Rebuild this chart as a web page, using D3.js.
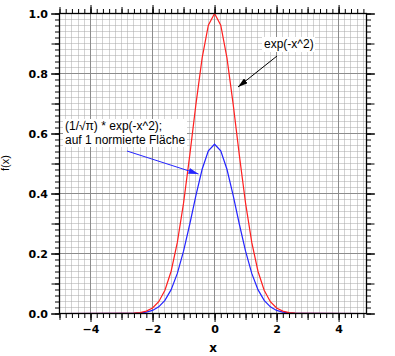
<!DOCTYPE html>
<html><head><meta charset="utf-8">
<script src="https://cdn.jsdelivr.net/npm/d3@7"></script>
<style>body{margin:0;background:#fff}svg{display:block}</style>
</head><body>
<svg id="c" width="395" height="356"></svg>
<script>
const xValues = [-5.0, -3.0,-2.8,-2.6,-2.4,-2.2,-2.0,-1.8,-1.6,-1.4,-1.2,-1.0,-0.8,-0.6,-0.4,-0.2,
                 0.0, 0.2,0.4,0.6,0.8,1.0,1.2,1.4,1.6,1.8,2.0,2.2,2.4,2.6,2.8,3.0, 4.9];
const redValues = [0, 0.0001,0.0004,0.0012,0.0032,0.0079,0.0183,0.0392,0.0773,0.1409,0.2369,0.3679,0.5273,0.6977,0.8521,0.9608,
                   1.0, 0.9608,0.8521,0.6977,0.5273,0.3679,0.2369,0.1409,0.0773,0.0392,0.0183,0.0079,0.0032,0.0012,0.0004,0.0001, 0];
const blueValues = [0, 0.0001,0.0002,0.0007,0.0018,0.0045,0.0103,0.0221,0.0436,0.0795,0.1337,0.2076,0.2975,0.3936,0.4808,0.5421,
                    0.5642, 0.5421,0.4808,0.3936,0.2975,0.2076,0.1337,0.0795,0.0436,0.0221,0.0103,0.0045,0.0018,0.0007,0.0002,0.0001, 0];
const xTickLabels = [-4, -2, 0, 2, 4];
const yTickLabels = [0.0, 0.2, 0.4, 0.6, 0.8, 1.0];
const redLabel = "exp(-x^2)";
const blueLabel = ["(1/\u221A\u03C0) * exp(-x^2);", "auf 1 normierte Fl\u00E4che"];

const svg = d3.select("#c");
const L = 59.5, R = 366.5, T = 13.5, B = 313.5;
const x = d3.scaleLinear().domain([-5, 4.9]).range([L, R]);
const y = d3.scaleLinear().domain([0, 1]).range([B, T]);
const crisp = v => Math.round(v - 0.5) + 0.5;

const xMinor = d3.range(-25, 25).map(i => i / 5);
const xMed = d3.range(-5, 5);
const yMinor = d3.range(0, 51).map(i => i / 50);
const yMed = d3.range(0, 11).map(i => i / 10);

// dotted minor grid
const g = svg.append("g");
g.selectAll("line.vx").data(xMinor.filter(v => v > -5 && Math.round(v * 5) % 10 !== 0))
  .join("line").attr("x1", d => crisp(x(d))).attr("x2", d => crisp(x(d))).attr("y1", T).attr("y2", B)
  .attr("stroke", "#a6a6a6").attr("stroke-dasharray", "1,1");
g.selectAll("line.hy").data(yMinor.filter(v => v > 0 && v < 1 && Math.round(v * 50) % 10 !== 0))
  .join("line").attr("x1", L).attr("x2", R).attr("y1", d => crisp(y(d))).attr("y2", d => crisp(y(d)))
  .attr("stroke", "#a6a6a6").attr("stroke-dasharray", "1,1");
// solid major grid
g.selectAll("line.mx").data(xTickLabels).join("line")
  .attr("x1", d => crisp(x(d))).attr("x2", d => crisp(x(d))).attr("y1", T).attr("y2", B).attr("stroke", "#8c8c8c");
g.selectAll("line.my").data(yTickLabels.filter(v => v > 0 && v < 1)).join("line")
  .attr("x1", L).attr("x2", R).attr("y1", d => crisp(y(d))).attr("y2", d => crisp(y(d))).attr("stroke", "#8c8c8c");

// curves
const line = d3.line().x(d => x(d[0])).y(d => y(d[1]));
svg.append("path").datum(xValues.map((v, i) => [v, blueValues[i]]))
  .attr("d", line).attr("fill", "none").attr("stroke", "#2424ff").attr("stroke-width", 1.2);
svg.append("path").datum(xValues.map((v, i) => [v, redValues[i]]))
  .attr("d", line).attr("fill", "none").attr("stroke", "#ff2020").attr("stroke-width", 1.2);

// axes
function ax(gen, tr, vals, size, labels) {
  const a = gen.tickValues(vals).tickSize(size).tickSizeOuter(0);
  if (labels) a.tickFormat(labels); else a.tickFormat("");
  const s = svg.append("g").attr("transform", tr).call(a);
  s.select(".domain").remove();
  s.selectAll(".tick line").attr("stroke", "#000");
  s.selectAll(".tick").attr("transform", function () {
    const t = this.getAttribute("transform");
    return t.replace(/translate\(([-\d.]+),([-\d.]+)\)/, (m, a1, b1) =>
      `translate(${gen.orient ? a1 : a1},${b1})`);
  });
  return s;
}
[[() => d3.axisBottom(x), `translate(0,${B})`, true], [() => d3.axisTop(x), `translate(0,${T})`, false]].forEach(([gen, tr, lab]) => {
  ax(gen(), tr, xMinor, 4.5);
  ax(gen(), tr, xMed, 6.5);
  ax(gen(), tr, xTickLabels, 8.5, lab ? d3.format("d") : null);
});
[[() => d3.axisLeft(y), `translate(${L},0)`, true], [() => d3.axisRight(y), `translate(${R},0)`, false]].forEach(([gen, tr, lab]) => {
  ax(gen(), tr, yMinor, 4.5);
  ax(gen(), tr, yMed, 8);
  ax(gen(), tr, yTickLabels, 8.5, lab ? d3.format(".1f") : null);
});
svg.selectAll(".tick text").attr("font-family", "'DejaVu Sans', sans-serif").attr("font-weight", "bold")
  .attr("font-size", 11).attr("fill", "#000");
// frame
svg.append("rect").attr("x", L).attr("y", T).attr("width", R - L).attr("height", B - T)
  .attr("fill", "none").attr("stroke", "#000").attr("stroke-width", 1.3);

// axis titles
svg.append("text").attr("x", 213).attr("y", 352).attr("text-anchor", "middle")
  .attr("font-family", "'DejaVu Sans', sans-serif").attr("font-weight", "bold").attr("font-size", 12).text("x");
svg.append("text").attr("transform", "translate(9,163) rotate(-90)").attr("text-anchor", "middle")
  .attr("font-family", "'Liberation Sans', Arial, sans-serif").attr("font-size", 11).text("f(x)");

// annotations
const defs = svg.append("defs");
function marker(id, col) {
  defs.append("marker").attr("id", id).attr("viewBox", "0 0 10 6").attr("refX", 10).attr("refY", 3)
    .attr("markerWidth", 10).attr("markerHeight", 6).attr("markerUnits", "userSpaceOnUse").attr("orient", "auto")
    .append("path").attr("d", "M0,0 L10,3 L0,6 Z").attr("fill", col);
}
marker("ab", "#000"); marker("abl", "#2424ff");
const font = "'Liberation Sans', Arial, sans-serif";
svg.append("rect").attr("x", 262).attr("y", 37).attr("width", 53).attr("height", 15).attr("fill", "#fff");
svg.append("text").attr("x", 264).attr("y", 48).attr("font-family", font).attr("font-size", 12).text(redLabel);
svg.append("line").attr("x1", 277).attr("y1", 56).attr("x2", 238).attr("y2", 87)
  .attr("stroke", "#000").attr("stroke-width", 1).attr("marker-end", "url(#ab)");
svg.append("rect").attr("x", 63).attr("y", 119).attr("width", 124).attr("height", 28).attr("fill", "#fff");
blueLabel.forEach((t, i) => svg.append("text").attr("x", 65).attr("y", 130 + i * 13.5)
  .attr("font-family", font).attr("font-size", 12).text(t));
svg.append("line").attr("x1", 127).attr("y1", 151).attr("x2", 198.5).attr("y2", 174)
  .attr("stroke", "#2424ff").attr("stroke-width", 1).attr("marker-end", "url(#abl)");
</script>
</body></html>
